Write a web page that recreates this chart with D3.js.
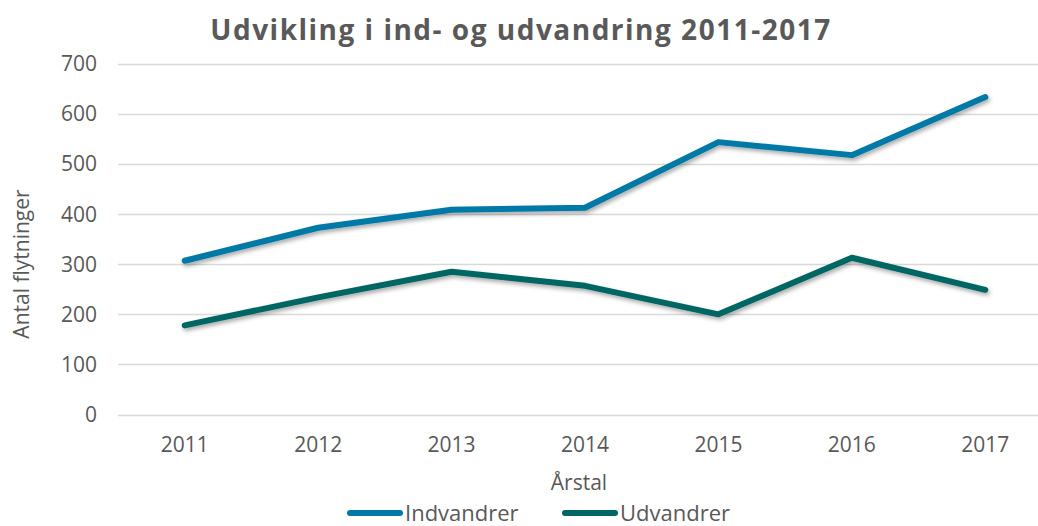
<!DOCTYPE html>
<html>
<head>
<meta charset="utf-8">
<script src="https://cdn.jsdelivr.net/npm/d3@7"></script>
<style>
  body { margin: 0; background: #fff; }
  text { font-family: "Open Sans", sans-serif; fill: #595959; }
</style>
</head>
<body>
<svg id="chart" width="1038" height="526"></svg>
<script>
// data
var years = ["2011", "2012", "2013", "2014", "2015", "2016", "2017"];
var indvandrer = [307, 373, 409, 413, 544, 518, 634];
var udvandrer = [178, 234, 285, 257, 200, 313, 249];
var yTicks = [0, 100, 200, 300, 400, 500, 600, 700];
var seriesNames = ["Indvandrer", "Udvandrer"];
var colors = ["#0079a6", "#006663"];

var svg = d3.select("#chart");

var margin = { left: 118, right: 1052, top: 64, bottom: 414.5 };

var x = d3.scaleBand().domain(years).range([margin.left, margin.right]);
var y = d3.scaleLinear().domain([0, 700]).range([margin.bottom, margin.top]);

// shadow for the lines
var defs = svg.append("defs");
var f = defs.append("filter").attr("id", "shadow")
  .attr("x", "-10%").attr("y", "-20%").attr("width", "120%").attr("height", "140%");
f.append("feDropShadow").attr("dx", 1.5).attr("dy", 2.5).attr("stdDeviation", 2)
  .attr("flood-color", "#000").attr("flood-opacity", 0.35);

// gridlines
svg.append("g").selectAll("line")
  .data(yTicks)
  .enter().append("line")
  .attr("x1", margin.left)
  .attr("x2", 1038)
  .attr("y1", function(d) { return Math.round(y(d)) + 0.5; })
  .attr("y2", function(d) { return Math.round(y(d)) + 0.5; })
  .style("stroke", "#d9d9d9")
  .style("stroke-width", 1.5);

// y axis labels
svg.append("g").selectAll("text")
  .data(yTicks)
  .enter().append("text")
  .attr("x", 97)
  .attr("y", function(d) { return y(d); })
  .attr("dy", "0.35em")
  .attr("text-anchor", "end")
  .style("font-size", "21px")
  .text(function(d) { return d; });

// x axis labels
svg.append("g").selectAll("text")
  .data(years)
  .enter().append("text")
  .attr("x", function(d) { return x(d) + x.bandwidth() / 2; })
  .attr("y", 445)
  .attr("dy", "0.35em")
  .attr("text-anchor", "middle")
  .style("font-size", "21px")
  .text(function(d) { return d; });

// lines
var line = d3.line()
  .x(function(d, i) { return x(years[i]) + x.bandwidth() / 2; })
  .y(function(d) { return y(d); });

[indvandrer, udvandrer].forEach(function(vals, k) {
  svg.append("path")
    .datum(vals)
    .attr("d", line)
    .attr("fill", "none")
    .attr("filter", "url(#shadow)")
    .style("stroke", colors[k])
    .style("stroke-width", 6)
    .style("stroke-linecap", "round")
    .style("stroke-linejoin", "round");
});

// title
svg.append("text")
  .attr("x", 521)
  .attr("y", 30)
  .attr("dy", "0.35em")
  .attr("text-anchor", "middle")
  .style("font-size", "28px")
  .style("font-weight", "bold")
  .style("letter-spacing", "1.5px")
  .text("Udvikling i ind- og udvandring 2011-2017");

// axis titles
svg.append("text")
  .attr("x", 579)
  .attr("y", 483)
  .attr("dy", "0.35em")
  .attr("text-anchor", "middle")
  .style("font-size", "21px")
  .text("Årstal");

svg.append("text")
  .attr("transform", "translate(22,264) rotate(-90)")
  .attr("dy", "0.35em")
  .attr("text-anchor", "middle")
  .style("font-size", "21px")
  .text("Antal flytninger");

// legend
var legendX = [347, 562];
seriesNames.forEach(function(name, k) {
  var g = svg.append("g").attr("transform", "translate(" + legendX[k] + ",513)");
  g.append("line")
    .attr("x1", 3).attr("x2", 53)
    .attr("y1", 0).attr("y2", 0)
    .style("stroke", colors[k])
    .style("stroke-width", 6)
    .style("stroke-linecap", "round");
  g.append("text")
    .attr("x", 58)
    .attr("y", 0)
    .attr("dy", "0.35em")
    .style("font-size", "22px")
    .text(name);
});
</script>
</body>
</html>
